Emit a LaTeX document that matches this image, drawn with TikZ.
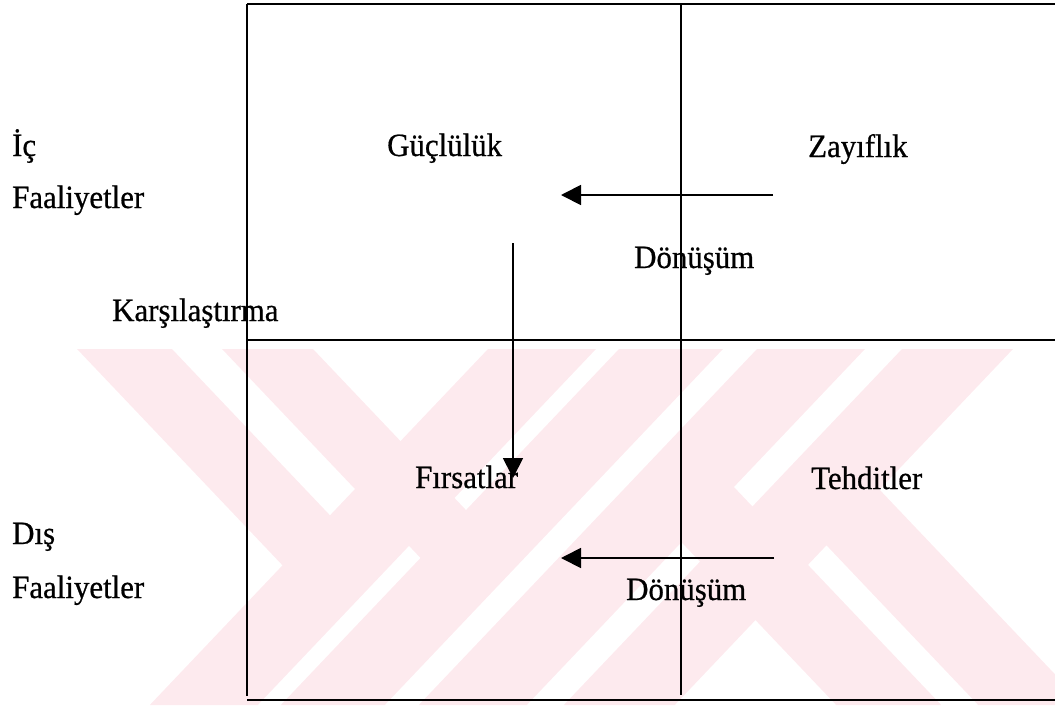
\documentclass[tikz,border=0pt]{standalone}
\usepackage{fontspec}
\setmainfont[FakeStretch=0.95,FakeBold=0.6]{Liberation Serif}
\usetikzlibrary{arrows.meta}
\definecolor{wm}{RGB}{253,234,238}
\begin{document}
\begin{tikzpicture}[x=1pt,y=-1pt,
  lbl/.style={anchor=base west, inner sep=0pt, font=\fontsize{32.5}{38}\selectfont},
  vline/.style={line width=1.8pt},
  hline/.style={line width=2.5pt},
  flow/.style={line width=1.8pt, -{Triangle[length=20pt,width=20pt]}},
  band/.style={fill=wm}]
\useasboundingbox (0,0) rectangle (1055,705);
% watermark
\begin{scope}
  \clip (0,349) rectangle (1055,705);
  \fill[band] (488,349) -- (596,349) -- (257.8,705) -- (149.8,705) -- cycle;
  \fill[band] (619,349) -- (723,349) -- (384.8,705) -- (280.8,705) -- cycle;
  \fill[band] (757,349) -- (865,349) -- (526.8,705) -- (418.8,705) -- cycle;
  \fill[band] (902,349) -- (1013,349) -- (674.8,705) -- (563.8,705) -- cycle;
  \fill[band] (77,349) -- (172,349) -- (381,569) -- (286,569) -- cycle;
  \fill[band] (222,349) -- (313,349) -- (514.4,561) -- (423.4,561) -- cycle;
  \fill[band] (836.2,705) -- (941.2,705) -- (733,486) -- (628,486) -- cycle;
  \fill[band] (978.2,705) -- (1084.2,705) -- (878,488) -- (772,488) -- cycle;
\end{scope}
% grid
\draw[hline] (247,4) -- (1055,4);
\draw[hline] (247,340) -- (1055,340);
\draw[hline] (247,700) -- (1055,700);
\draw[vline] (247,4) -- (247,696);
\draw[vline] (681,4) -- (681,695);
% labels
\node[lbl] (ic) at (12,156) {İç};
\node[lbl] (faal1) at (12,208) {Faaliyetler};
\node[lbl] (gucl) at (387,156) {Güçlülük};
\node[lbl] (zayif) at (808,157) {Zayıflık};
\node[lbl] (donus1) at (634,268) {Dönüşüm};
\node[lbl] (kars) at (112,321) {Karşılaştırma};
\node[lbl] (firs) at (415,488) {Fırsatlar};
\node[lbl] (tehd) at (811,489) {Tehditler};
\node[lbl] (dis) at (12,544) {Dış};
\node[lbl] (faal2) at (12,598) {Faaliyetler};
\node[lbl] (donus2) at (626,600) {Dönüşüm};
% arrows
\coordinate (u1) at (773,195);
\coordinate (u2) at (561,195);
\coordinate (v1) at (513,243);
\coordinate (v2) at (513,478);
\coordinate (l1) at (774,558);
\coordinate (l2) at (561,558);
\draw[flow] (u1) -- (u2);
\draw[flow] (v1) -- (v2);
\draw[flow] (l1) -- (l2);
\end{tikzpicture}
\end{document}
